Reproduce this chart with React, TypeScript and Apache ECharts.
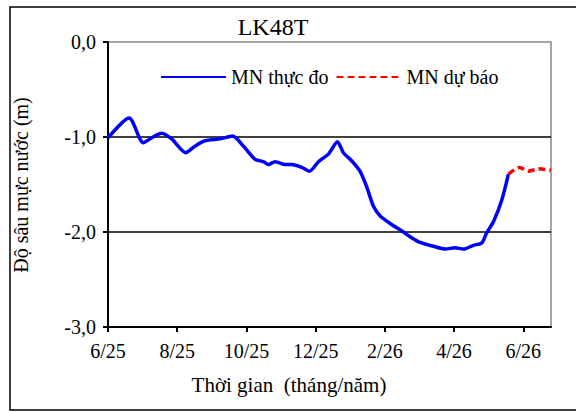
import React, { useEffect, useRef } from "react";
import * as echarts from "echarts";

// months since 6/2025
const observedMonths = [0, 0.61, 1.02, 1.3, 1.55, 1.84, 2.25, 2.5, 2.8, 3.24, 3.6, 3.91, 4.25, 4.49, 4.63, 4.83, 5.12, 5.31, 5.6, 5.82, 6.08, 6.37, 6.63, 6.8, 7.04, 7.28, 7.48, 7.67, 7.86, 8.15, 8.49, 8.73, 9.02, 9.4, 9.74, 10.03, 10.27, 10.56, 10.8, 10.94, 11.14, 11.38, 11.57];
const observedDepths = [-1.01, -0.8, -1.06, -1.0, -0.96, -1.02, -1.165, -1.1, -1.04, -1.02, -0.99, -1.095, -1.235, -1.26, -1.29, -1.26, -1.29, -1.29, -1.32, -1.36, -1.26, -1.18, -1.05, -1.165, -1.25, -1.36, -1.53, -1.73, -1.83, -1.91, -1.99, -2.05, -2.11, -2.15, -2.18, -2.165, -2.18, -2.14, -2.115, -2.01, -1.89, -1.66, -1.39];
const forecastMonths = [11.57, 11.89, 12.15, 12.44, 12.8];
const forecastDepths = [-1.39, -1.32, -1.36, -1.335, -1.35];
const tickValues = [0, 2, 4, 6, 8, 10, 12];
const tickLabels = ["6/25", "8/25", "10/25", "12/25", "2/26", "4/26", "6/26"];
const seriesNames = ["MN thực đo", "MN dự báo"];

const FONT = "Times New Roman";

export default function App() {
  const ref = useRef<HTMLDivElement>(null);
  useEffect(() => {
    if (!ref.current) return;
    const chart = echarts.init(ref.current, null, { renderer: "svg" });
    const observed = observedMonths.map((m, i) => [m, observedDepths[i]]);
    const forecast = forecastMonths.map((m, i) => [m, forecastDepths[i]]);
    chart.setOption({
      animation: false,
      backgroundColor: "#fff",
      textStyle: { fontFamily: FONT },
      grid: {
        left: 108,
        right: 25,
        top: 42,
        bottom: 85,
        show: true,
        borderColor: "#888",
        borderWidth: 1.5,
        backgroundColor: "transparent",
      },
      legend: {
        left: 155,
        top: 62,
        itemWidth: 65,
        itemHeight: 14,
        itemGap: 7,
        itemStyle: { opacity: 0, borderWidth: 0 },
        textStyle: { fontFamily: FONT, fontSize: 20, color: "#000" },
        data: seriesNames,
      },
      xAxis: {
        type: "value",
        min: 0,
        max: 12.8,
        interval: 2,
        axisLine: { show: true, onZero: false, lineStyle: { color: "#000", width: 2 } },
        axisTick: {
          show: true,
          length: 5,
          customValues: tickValues,
          lineStyle: { color: "#000", width: 2 },
        },
        axisLabel: {
          customValues: tickValues,
          formatter: (v: number) => {
            const idx = tickValues.indexOf(Math.round(v));
            return idx >= 0 ? tickLabels[idx] : "";
          },
          fontFamily: FONT,
          fontSize: 20,
          color: "#000",
          margin: 14,
        },
        splitLine: { show: false },
      },
      yAxis: {
        type: "value",
        min: -3,
        max: 0,
        interval: 1,
        axisLine: { show: true, lineStyle: { color: "#000", width: 2 } },
        axisTick: { show: true, length: 5, lineStyle: { color: "#000", width: 2 } },
        axisLabel: {
          formatter: (v: number) => (v === 0 ? "0,0" : v.toFixed(1).replace(".", ",")),
          fontFamily: FONT,
          fontSize: 20,
          color: "#000",
          margin: 12,
        },
        splitLine: {
          show: true,
          showMaxLine: false,
          showMinLine: false,
          lineStyle: { color: "#000", width: 1.5 },
        },
      },
      series: [
        {
          name: seriesNames[0],
          type: "line",
          data: observed,
          symbol: "none",
          smooth: 0.25,
          lineStyle: { color: "#0000FF", width: 3.5 },
          itemStyle: { color: "#0000FF" },
          z: 3,
        },
        {
          name: seriesNames[1],
          type: "line",
          data: forecast,
          symbol: "none",
          smooth: 0.25,
          lineStyle: { color: "#FF0000", width: 3.5, type: [7, 4] },
          itemStyle: { color: "#FF0000" },
          z: 3,
        },
      ],
      graphic: [
        {
          type: "rect",
          shape: { x: 10, y: 7, width: 640, height: 403 },
          style: { fill: "none", stroke: "#000", lineWidth: 1.5 },
          silent: true,
        },
        {
          type: "text",
          x: 273,
          y: 27,
          style: {
            text: "LK48T",
            fontFamily: FONT,
            fontSize: 24,
            fill: "#000",
            align: "center",
            verticalAlign: "middle",
          },
        },
        {
          type: "text",
          x: 21,
          y: 185,
          rotation: Math.PI / 2,
          style: {
            text: "Độ sâu mực nước (m)",
            fontFamily: FONT,
            fontSize: 20,
            fill: "#000",
            align: "center",
            verticalAlign: "middle",
          },
        },
        {
          type: "text",
          x: 289,
          y: 385,
          style: {
            text: "Thời gian  (tháng/năm)",
            fontFamily: FONT,
            fontSize: 21,
            fill: "#000",
            align: "center",
            verticalAlign: "middle",
          },
        },
      ],
    });
    return () => chart.dispose();
  }, []);
  return (
    <div
      ref={ref}
      style={{ position: "fixed", left: 0, top: 0, width: 576, height: 412 }}
    />
  );
}
